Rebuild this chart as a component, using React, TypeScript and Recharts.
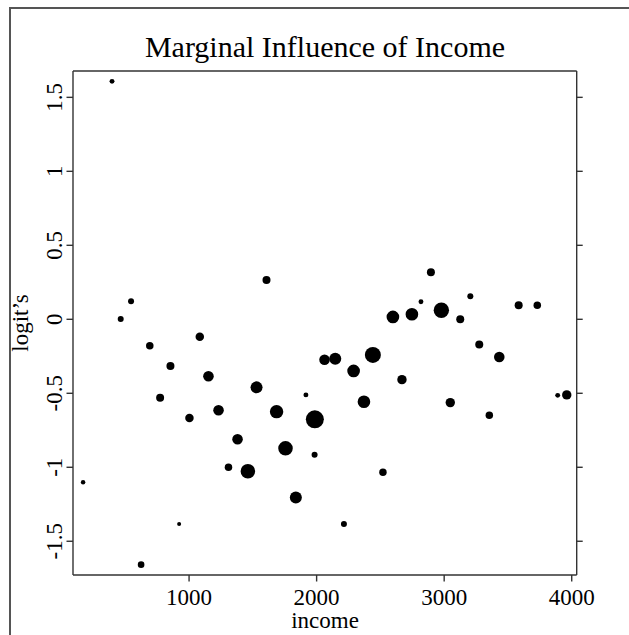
import React from 'react';
import { ScatterChart, Scatter, XAxis, YAxis, ZAxis } from 'recharts';

const incomes = [396, 1607, 545, 464, 1084, 692, 854, 1152, 773, 1529, 1916, 1231, 1003, 1686, 1986, 1380, 1756, 1984, 1309, 1461, 169, 1837, 922, 2214, 624, 2062, 2146, 2290, 2896, 2818, 3205, 3584, 3730, 2598, 2747, 2978, 3126, 3275, 3432, 2441, 2669, 2371, 3048, 3354, 3890, 3961, 2520];
const logits = [1.608, 0.266, 0.122, 0.002, -0.118, -0.178, -0.316, -0.385, -0.53, -0.46, -0.511, -0.615, -0.667, -0.624, -0.676, -0.811, -0.872, -0.915, -1.0, -1.027, -1.101, -1.205, -1.383, -1.383, -1.658, -0.273, -0.266, -0.349, 0.318, 0.119, 0.155, 0.095, 0.095, 0.016, 0.034, 0.061, 0.0, -0.171, -0.255, -0.241, -0.408, -0.557, -0.563, -0.649, -0.514, -0.511, -1.034];
const weights = [6, 16, 9, 9, 18, 14, 16, 28, 16, 36, 6, 28, 18, 45, 81, 28, 53, 9, 14, 53, 5, 36, 4, 9, 11, 28, 36, 40, 16, 6, 9, 16, 14, 40, 40, 59, 16, 16, 28, 64, 22, 40, 22, 14, 6, 22, 14];
const xTicks = [1000, 2000, 3000, 4000];
const yTicks = [-1.5, -1, -0.5, 0, 0.5, 1, 1.5];
const xDomain = [90, 4039];
const yDomain = [-1.728, 1.678];
const weightDomain = [0, 81];

const data = incomes.map((v, i) => ({ income: v, logit: logits[i], w: weights[i] }));

const FONT = '"Liberation Serif", "Times New Roman", serif';
const AXIS = '#333';

const XTick = (props: any) => {
  const { x, y, payload } = props;
  return (
    <text x={x} y={y} dy={21.5} textAnchor="middle" fontFamily={FONT} fontSize={23} fill="#000">
      {payload.value}
    </text>
  );
};

const YTick = (props: any) => {
  const { x, y, payload } = props;
  return (
    <text x={0} y={0} transform={`translate(${x - 3},${y}) rotate(-90)`} textAnchor="middle" fontFamily={FONT} fontSize={23} fill="#000">
      {payload.value}
    </text>
  );
};

const EmptyTick = () => <g />;

export default function App() {
  return (
    <div style={{ position: 'absolute', left: 0, top: 0, width: 629, height: 635, background: '#fff', overflow: 'hidden' }}>
      <div style={{ position: 'absolute', left: 9, top: 7, width: 700, height: 700, borderLeft: '2px solid #555', borderTop: '2px solid #555' }} />
      <ScatterChart width={629} height={635} margin={{ top: 0, right: 0, bottom: 0, left: 0 }} style={{ position: 'absolute', left: 0, top: 0 }}>
        <XAxis xAxisId="b" dataKey="income" type="number" domain={xDomain} ticks={xTicks} allowDataOverflow orientation="bottom" height={60} tickSize={6.5} tick={<XTick />} stroke={AXIS} strokeWidth={1.4} interval={0} />
        <XAxis xAxisId="t" type="number" domain={xDomain} ticks={xTicks} allowDataOverflow orientation="top" height={71} tickSize={6} tick={<EmptyTick />} stroke={AXIS} strokeWidth={1.4} interval={0} />
        <YAxis yAxisId="l" dataKey="logit" type="number" domain={yDomain} ticks={yTicks} allowDataOverflow orientation="left" width={73} tickSize={6.5} tick={<YTick />} stroke={AXIS} strokeWidth={1.4} interval={0} />
        <YAxis yAxisId="r" type="number" domain={yDomain} ticks={yTicks} allowDataOverflow orientation="right" width={52.3} tickSize={6} tick={<EmptyTick />} stroke={AXIS} strokeWidth={1.4} interval={0} />
        <ZAxis zAxisId="z" dataKey="w" type="number" domain={weightDomain} range={[0, 81 * Math.PI]} />
        <Scatter data={data} xAxisId="b" yAxisId="l" zAxisId="z" fill="#000" shape="circle" isAnimationActive={false} />
      </ScatterChart>
      <svg width={629} height={635} style={{ position: 'absolute', left: 0, top: 0, pointerEvents: 'none' }}>
        <text x={325} y={57} textAnchor="middle" fontFamily={FONT} fontSize={30} fill="#000">Marginal Influence of Income</text>
        <text x={325} y={628} textAnchor="middle" fontFamily={FONT} fontSize={23} fill="#000">income</text>
        <text x={0} y={0} transform="translate(28,323) rotate(-90)" textAnchor="middle" fontFamily={FONT} fontSize={23} fill="#000">logit’s</text>
      </svg>
    </div>
  );
}
